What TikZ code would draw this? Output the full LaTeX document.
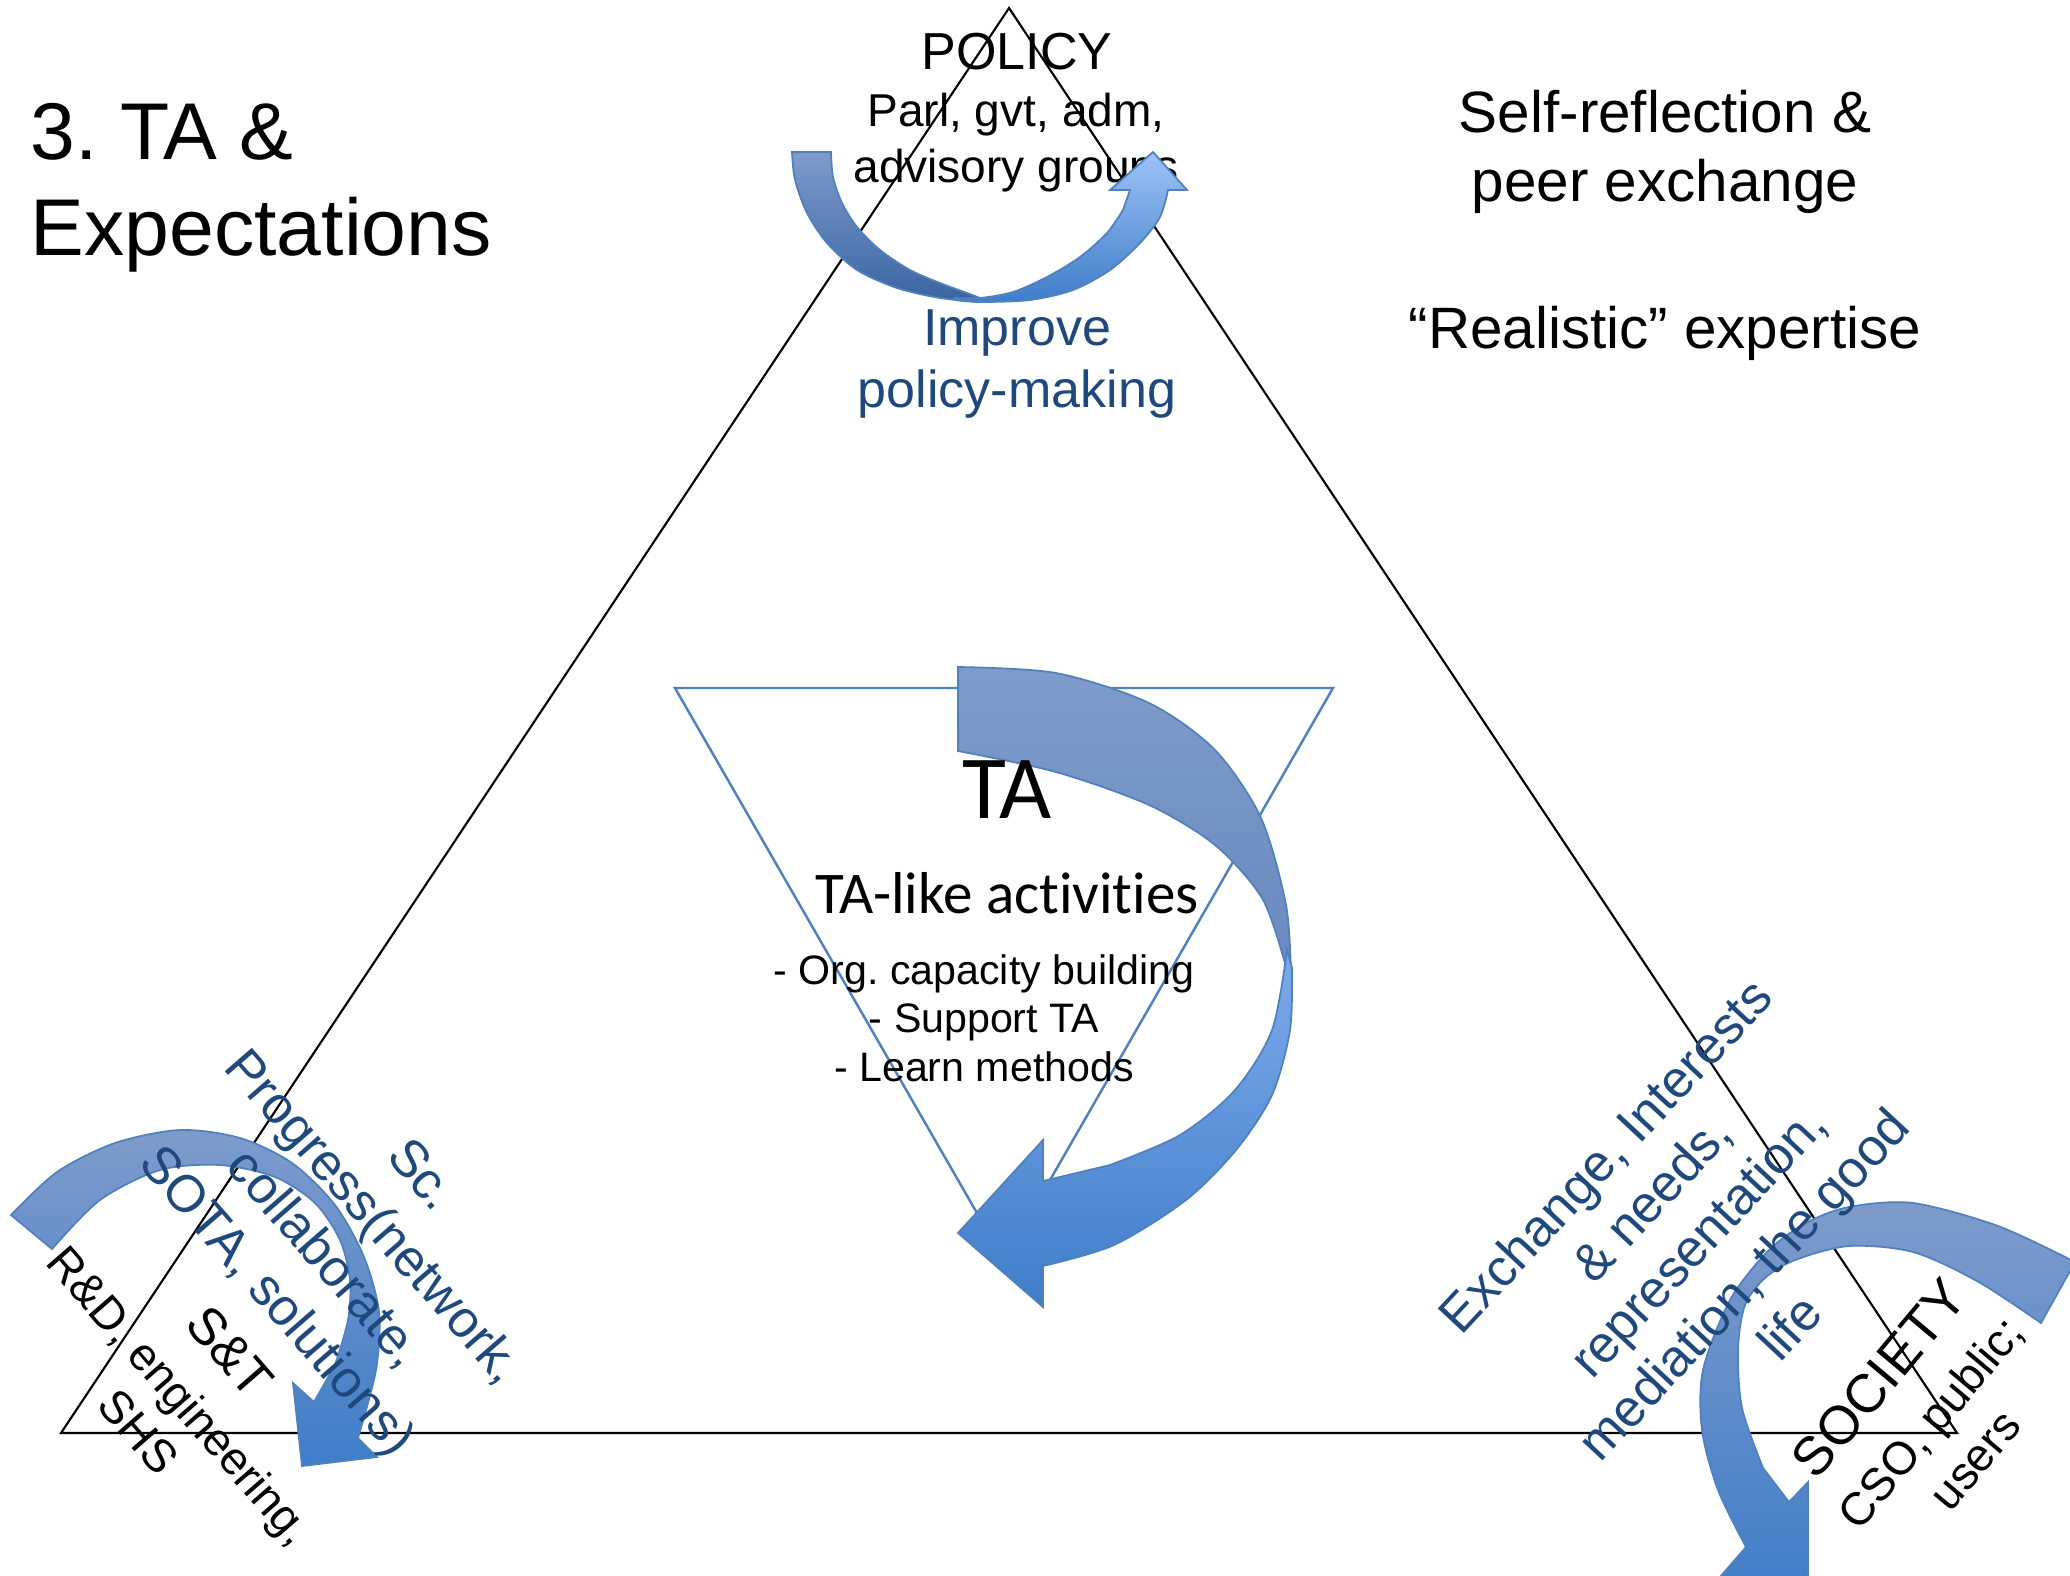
\documentclass[tikz,border=0pt]{standalone}
\usepackage{fontspec}
\setmainfont{Liberation Sans}
\newfontfamily\calibri[Ligatures={NoCommon}]{Carlito}
\usepackage{tikz}
\usetikzlibrary{calc}
\definecolor{tablue}{HTML}{1F497D}
\definecolor{inline}{HTML}{4F81BD}
\definecolor{arrtop}{HTML}{7F9BCB}
\definecolor{arrbot}{HTML}{3F7DC9}
\definecolor{arrdark}{HTML}{3A64A3}
\definecolor{arrhead}{HTML}{9EC3F7}
\definecolor{arrfold}{HTML}{6A89BF}
\definecolor{arrlight}{HTML}{7FAAEB}
\newcommand{\pxf}[2]{\fontsize{#1}{#2}\selectfont}
\frenchspacing

\begin{document}
\begin{tikzpicture}[x=0.01cm,y=-0.01cm,
    lbl/.style={inner sep=0pt,align=center},
    bluelbl/.style={lbl,text=tablue},
    bigarrow/.style={draw=inline,line width=0.5pt}]

\useasboundingbox (0,0) rectangle (2070,1575);
\clip (0,0) rectangle (2070,1575);

\coordinate (apex) at (1009,8);
\coordinate (st) at (61,1433);
\coordinate (soc) at (1957,1433);
\draw[line width=0.6pt] (apex) -- (st) -- (soc) -- cycle;

\coordinate (ta1) at (675,688);
\coordinate (ta2) at (1333,688);
\coordinate (ta3) at (1004,1260);
\draw[inline,line width=0.7pt] (ta1) -- (ta2) -- (ta3) -- cycle;

\node[lbl,font=\pxf{14.8}{17}] (policy) at (1017,52) {POLICY};
\node[lbl,font=\pxf{13.1}{15.9}] (policysub) at (1016,143) {Parl, gvt, adm,\\advisory groups};

% curved arrows
\shadedraw[bigarrow,top color=arrtop,bottom color=arrdark]
  plot[smooth] coordinates {(792,152) (795,180) (807,213) (827,243) (857,270) (897,288) (940,298) (980,302)}
  -- plot[smooth] coordinates {(980,298) (967,293) (940,283) (910,270) (880,250) (857,227) (842,203) (833,177) (831,152)}
  -- cycle;
\shadedraw[bigarrow,top color=arrhead,bottom color=arrbot]
  plot[smooth] coordinates {(955,300) (980,302) (1030,300) (1073,290) (1110,270) (1140,243) (1160,217) (1168,190)}
  -- (1187,190) -- (1153,152) -- (1110,190) -- (1130,190)
  -- plot[smooth] coordinates {(1123,210) (1107,233) (1080,257) (1047,277) (1013,292) (980,298) (955,298)}
  -- cycle;

\shadedraw[bigarrow,top color=arrtop,bottom color=arrfold]
  plot[smooth] coordinates {(958,667) (1056,673) (1149,703) (1215,750) (1261,818) (1286,905) (1291,975)}
  -- plot[smooth] coordinates {(1284,960) (1262,898) (1215,845) (1149,805) (1056,772) (958,751)}
  -- cycle;
\shadedraw[bigarrow,top color=arrlight,bottom color=arrbot]
  plot[smooth] coordinates {(1292,968) (1290,1030) (1272,1095) (1236,1150) (1186,1200) (1114,1245) (1043,1266)}
  -- (1043,1307) -- (958,1233) -- (1043,1140) -- (1043,1181)
  -- plot[smooth] coordinates {(1110,1165) (1180,1135) (1235,1090) (1272,1030) (1287,950)}
  -- cycle;

\shadedraw[bigarrow,top color=arrtop,bottom color=arrbot]
  plot[smooth] coordinates {(11,1215) (57,1172) (115,1143) (180,1130) (240,1138) (292,1163) (335,1205) (364,1257) (379,1312) (376,1370) (358,1438)}
  -- (377,1457) -- (302,1466) -- (293,1383) -- (314,1402)
  -- plot[smooth] coordinates {(335,1365) (348,1320) (350,1280) (340,1240) (315,1203) (275,1177) (220,1165) (160,1170) (100,1200) (52,1249)}
  -- cycle;

\shadedraw[bigarrow,top color=arrtop,bottom color=arrbot]
  plot[smooth] coordinates {(2075,1262) (1998,1226) (1913,1203) (1849,1207) (1806,1223) (1768,1251) (1730,1300) (1703,1370) (1702,1430) (1718,1490) (1746,1547)}
  -- (1700,1600) -- (1808,1590) -- (1808,1482) -- (1789,1502)
  -- plot[smooth] coordinates {(1763,1468) (1742,1408) (1738,1349) (1745,1305) (1765,1278) (1795,1260) (1849,1246) (1913,1252) (1977,1281) (2041,1323)}
  -- cycle;

\node[lbl,font=\pxf{22.9}{27.3},align=left,anchor=north west] (title) at (30,103) {3. TA \&\\Expectations};
\node[lbl,font=\pxf{16.6}{19.8}] (selfref) at (1665,152) {Self-reflection \&\\peer exchange};
\node[lbl,font=\pxf{16.6}{19.8}] (realistic) at (1665,333) {“Realistic” expertise};
\node[bluelbl,font=\pxf{14.8}{17.4}] (improve) at (1017,364) {Improve\\policy-making};

\node[lbl,font=\calibri\pxf{25.6}{30}] (ta) at (1007,790) {TA};
\node[lbl,font=\calibri\pxf{16.8}{20}] (talike) at (1007,893) {TA-like activities};
\node[lbl,font=\pxf{11.7}{13.8}] (tatasks) at (984,1018) {- Org. capacity building\\- Support TA\\- Learn methods};

\node[bluelbl,font=\pxf{14.8}{18.2},rotate=-49] (science) at (347,1240) {Sc.\\Progress(network,\\collaborate,\\SOTA, solutions)};
\node[lbl,font=\pxf{14.8}{17},rotate=-49] (snt) at (230,1352) {S\&T};
\node[lbl,font=\pxf{13.1}{15.6},rotate=-49] (sntsub) at (160,1413) {R\&D, engineering,\\SHS};

\node[bluelbl,font=\pxf{14.8}{17.9},rotate=47] (exchange) at (1697,1241) {Exchange, Interests\\\& needs,\\representation,\\mediation, the good\\life};
\node[lbl,font=\pxf{15.4}{17},rotate=50] (society) at (1879,1378) {SOCIETY};
\node[lbl,font=\pxf{13.1}{16.5},rotate=50] (societysub) at (1952,1441) {CSO, public;\\users};
\end{tikzpicture}
\end{document}
